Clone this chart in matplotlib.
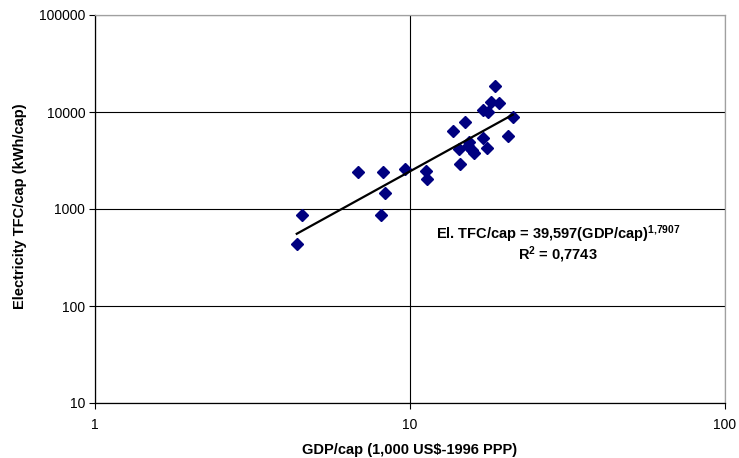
import matplotlib
matplotlib.use("Agg")
import matplotlib.pyplot as plt
import numpy as np

plt.rcParams['font.family'] = ['Liberation Sans', 'DejaVu Sans']
plt.rcParams['mathtext.fontset'] = 'custom'
plt.rcParams['mathtext.rm'] = 'Liberation Sans:bold'
plt.rcParams['mathtext.it'] = 'Liberation Sans:bold'
plt.rcParams['mathtext.bf'] = 'Liberation Sans:bold'

# GDP per capita (1,000 US$-1996 PPP)
gdp = [18.6, 18.1, 19.1, 17.1, 17.65, 21.2, 15.0, 13.7, 17.05, 20.4,
       15.4, 14.3, 15.3, 15.7, 16.0, 17.6, 14.4, 9.62, 11.2, 11.3,
       6.85, 8.21, 8.33, 4.53, 8.07, 4.37]
# Electricity TFC per capita (kWh/cap)
elec = [18700, 12700, 12500, 10500, 9900, 8900, 7900, 6300, 5400, 5600,
        4900, 4200, 4450, 4050, 3800, 4300, 2900, 2570, 2450, 2050,
        2400, 2400, 1470, 870, 870, 440]

# power trendline: El = a * GDP^b
coef_a = 39.597
coef_b = 1.7907
r2 = 0.7743

fig = plt.figure(figsize=(7.39, 4.58), dpi=100)
ax = fig.add_axes([95/739, 55/458, 630/739, 388/458])

ax.plot(gdp, elec, linestyle='none', marker='D', markersize=6.5,
        color='#000080', zorder=3)

xl = np.geomspace(min(gdp), max(gdp), 50)
ax.plot(xl, coef_a * xl ** coef_b, color='black', lw=1.6, zorder=4)

ax.set_xscale('log')
ax.set_yscale('log')
ax.set_xlim(1, 100)
ax.set_ylim(10, 100000)
ax.set_xticks([1, 10, 100])
ax.set_xticklabels(['1', '10', '100'])
ax.set_yticks([10, 100, 1000, 10000, 100000])
ax.set_yticklabels(['10', '100', '1000', '10000', '100000'])
ax.minorticks_off()
ax.tick_params(axis='both', direction='out', length=4, width=0.8,
               labelsize=10, color='black', pad=3)
ax.tick_params(axis='x', pad=7)

ax.grid(True, which='major', color='black', lw=0.8)
for s in ['left', 'bottom']:
    ax.spines[s].set_color('black')
    ax.spines[s].set_linewidth(0.9)
for s in ['top', 'right']:
    ax.spines[s].set_color('#a0a0a0')
    ax.spines[s].set_linewidth(0.9)

ax.set_xlabel(r'GDP/cap (1,000 US\$-1996 PPP)', fontsize=10.5, fontweight='bold')
ax.set_ylabel('Electricity TFC/cap (kWh/cap)', fontsize=10.5, fontweight='bold')
ax.xaxis.set_label_coords(0.5, -0.103)
ax.yaxis.set_label_coords(-0.108, 0.508)

ax.text(558/739, (458-234)/458,
        r'El. TFC/cap = 39,597(GDP/cap)$^{\mathrm{1{,}7907}}$',
        transform=fig.transFigure, ha='center', va='center',
        fontsize=10.5, fontweight='bold')
ax.text(558/739, (458-255)/458, r'R$^{\mathrm{2}}$ = 0,7743',
        transform=fig.transFigure, ha='center', va='center',
        fontsize=10.5, fontweight='bold')

fig.savefig('out.png', dpi=100)
